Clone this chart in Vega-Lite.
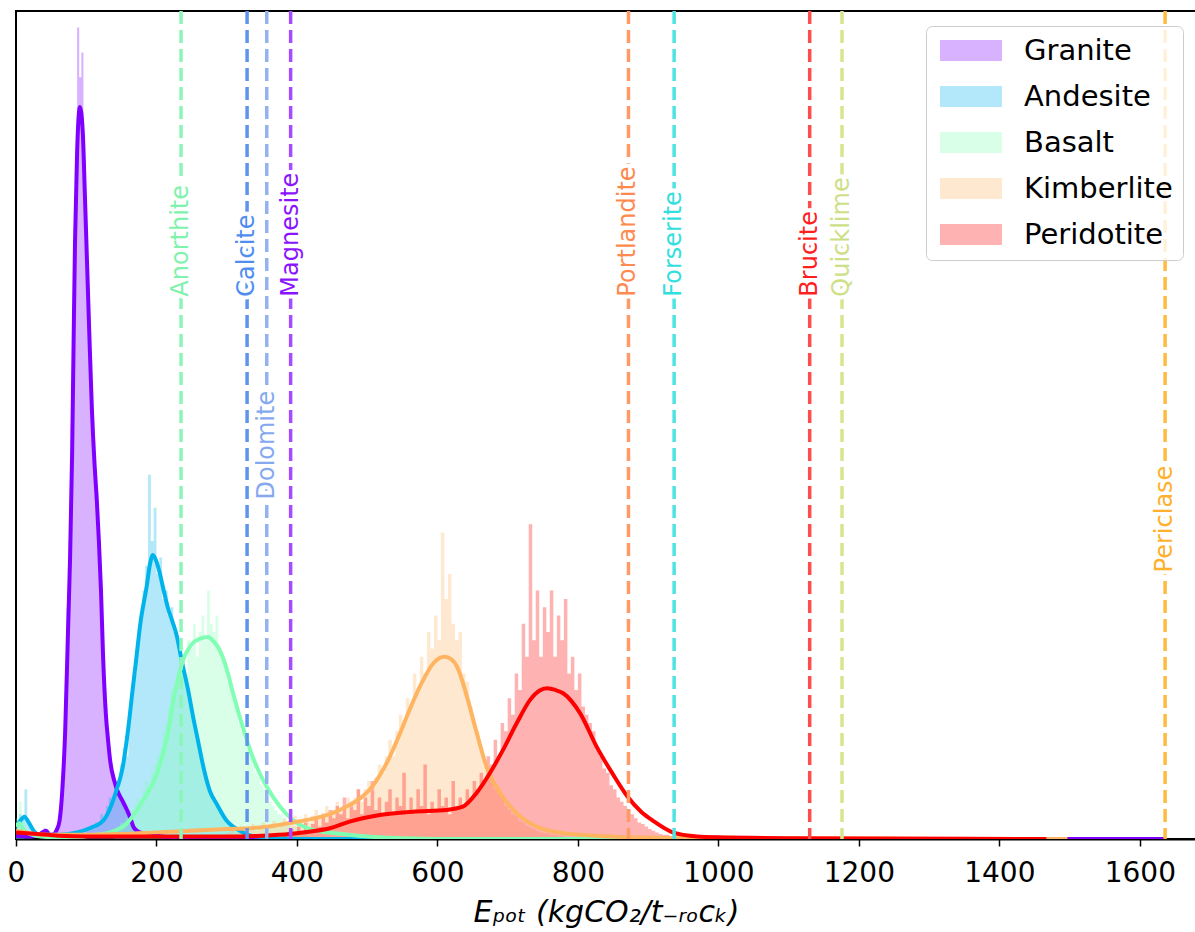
{
"$schema": "https://vega.github.io/schema/vega-lite/v6.json",
"width": 1180, "height": 828,
"autosize": {"type": "none"},
"padding": {"left": 16, "top": 11, "right": 0, "bottom": 93},
"background": "white",
"config": {"view": {"stroke": "black", "strokeWidth": 2}, "font": "DejaVu Sans"},
"datasets": {
"hist": [
{"r":"Granite","x":36,"h":0.01},{"r":"Granite","x":39,"h":0.013},{"r":"Granite","x":42,"h":0.009},{"r":"Granite","x":45,"h":0.004},{"r":"Granite","x":48,"h":0.006},{"r":"Granite","x":51,"h":0.005},{"r":"Granite","x":54,"h":0.008},{"r":"Granite","x":57,"h":0.015},{"r":"Granite","x":60,"h":0.03},{"r":"Granite","x":63,"h":0.05},{"r":"Granite","x":66,"h":0.1},{"r":"Granite","x":69,"h":0.17},{"r":"Granite","x":72,"h":0.28},{"r":"Granite","x":75,"h":0.36},{"r":"Granite","x":78,"h":0.5},{"r":"Granite","x":81,"h":0.66},{"r":"Granite","x":84,"h":0.8},{"r":"Granite","x":87,"h":0.98},{"r":"Granite","x":90,"h":0.92},{"r":"Granite","x":93,"h":0.95},{"r":"Granite","x":96,"h":0.82},{"r":"Granite","x":99,"h":0.72},{"r":"Granite","x":102,"h":0.66},{"r":"Granite","x":105,"h":0.56},{"r":"Granite","x":108,"h":0.5},{"r":"Granite","x":111,"h":0.44},{"r":"Granite","x":114,"h":0.42},{"r":"Granite","x":117,"h":0.35},{"r":"Granite","x":120,"h":0.3},{"r":"Granite","x":123,"h":0.22},{"r":"Granite","x":126,"h":0.16},{"r":"Granite","x":129,"h":0.13},{"r":"Granite","x":132,"h":0.1},{"r":"Granite","x":135,"h":0.085},{"r":"Granite","x":138,"h":0.07},{"r":"Granite","x":141,"h":0.062},{"r":"Granite","x":144,"h":0.055},{"r":"Granite","x":147,"h":0.05},{"r":"Granite","x":150,"h":0.045},{"r":"Granite","x":153,"h":0.038},{"r":"Granite","x":156,"h":0.033},{"r":"Granite","x":159,"h":0.028},{"r":"Granite","x":162,"h":0.02},{"r":"Granite","x":165,"h":0.014},{"r":"Granite","x":168,"h":0.01},{"r":"Granite","x":171,"h":0.008},{"r":"Granite","x":174,"h":0.006},{"r":"Granite","x":177,"h":0.004},{"r":"Granite","x":180,"h":0},
{"r":"Andesite","x":0,"h":0.02},{"r":"Andesite","x":4,"h":0.03},{"r":"Andesite","x":8,"h":0.025},{"r":"Andesite","x":12,"h":0.06},{"r":"Andesite","x":16,"h":0.02},{"r":"Andesite","x":20,"h":0.01},{"r":"Andesite","x":24,"h":0},{"r":"Andesite","x":100,"h":0.01},{"r":"Andesite","x":104,"h":0.015},{"r":"Andesite","x":108,"h":0.012},{"r":"Andesite","x":112,"h":0.02},{"r":"Andesite","x":116,"h":0.018},{"r":"Andesite","x":120,"h":0.03},{"r":"Andesite","x":124,"h":0.025},{"r":"Andesite","x":128,"h":0.04},{"r":"Andesite","x":132,"h":0.05},{"r":"Andesite","x":136,"h":0.045},{"r":"Andesite","x":140,"h":0.07},{"r":"Andesite","x":144,"h":0.06},{"r":"Andesite","x":148,"h":0.09},{"r":"Andesite","x":152,"h":0.11},{"r":"Andesite","x":156,"h":0.1},{"r":"Andesite","x":160,"h":0.15},{"r":"Andesite","x":164,"h":0.17},{"r":"Andesite","x":168,"h":0.2},{"r":"Andesite","x":172,"h":0.24},{"r":"Andesite","x":176,"h":0.27},{"r":"Andesite","x":180,"h":0.3},{"r":"Andesite","x":184,"h":0.33},{"r":"Andesite","x":188,"h":0.44},{"r":"Andesite","x":192,"h":0.36},{"r":"Andesite","x":196,"h":0.4},{"r":"Andesite","x":200,"h":0.32},{"r":"Andesite","x":204,"h":0.34},{"r":"Andesite","x":208,"h":0.29},{"r":"Andesite","x":212,"h":0.3},{"r":"Andesite","x":216,"h":0.27},{"r":"Andesite","x":220,"h":0.28},{"r":"Andesite","x":224,"h":0.25},{"r":"Andesite","x":228,"h":0.24},{"r":"Andesite","x":232,"h":0.22},{"r":"Andesite","x":236,"h":0.2},{"r":"Andesite","x":240,"h":0.19},{"r":"Andesite","x":244,"h":0.17},{"r":"Andesite","x":248,"h":0.15},{"r":"Andesite","x":252,"h":0.14},{"r":"Andesite","x":256,"h":0.12},{"r":"Andesite","x":260,"h":0.11},{"r":"Andesite","x":264,"h":0.09},{"r":"Andesite","x":268,"h":0.08},{"r":"Andesite","x":272,"h":0.065},{"r":"Andesite","x":276,"h":0.055},{"r":"Andesite","x":280,"h":0.05},{"r":"Andesite","x":284,"h":0.04},{"r":"Andesite","x":288,"h":0.035},{"r":"Andesite","x":292,"h":0.03},{"r":"Andesite","x":296,"h":0.025},{"r":"Andesite","x":300,"h":0.02},{"r":"Andesite","x":304,"h":0.018},{"r":"Andesite","x":308,"h":0.014},{"r":"Andesite","x":312,"h":0.012},{"r":"Andesite","x":316,"h":0.01},{"r":"Andesite","x":320,"h":0.008},{"r":"Andesite","x":324,"h":0.006},{"r":"Andesite","x":328,"h":0.004},{"r":"Andesite","x":332,"h":0},
{"r":"Basalt","x":0,"h":0.025},{"r":"Basalt","x":4,"h":0.045},{"r":"Basalt","x":8,"h":0.02},{"r":"Basalt","x":12,"h":0},{"r":"Basalt","x":140,"h":0.01},{"r":"Basalt","x":144,"h":0.015},{"r":"Basalt","x":148,"h":0.02},{"r":"Basalt","x":152,"h":0.02},{"r":"Basalt","x":156,"h":0.025},{"r":"Basalt","x":160,"h":0.03},{"r":"Basalt","x":164,"h":0.035},{"r":"Basalt","x":168,"h":0.04},{"r":"Basalt","x":172,"h":0.05},{"r":"Basalt","x":176,"h":0.045},{"r":"Basalt","x":180,"h":0.06},{"r":"Basalt","x":184,"h":0.07},{"r":"Basalt","x":188,"h":0.065},{"r":"Basalt","x":192,"h":0.08},{"r":"Basalt","x":196,"h":0.09},{"r":"Basalt","x":200,"h":0.1},{"r":"Basalt","x":204,"h":0.11},{"r":"Basalt","x":208,"h":0.13},{"r":"Basalt","x":212,"h":0.14},{"r":"Basalt","x":216,"h":0.16},{"r":"Basalt","x":220,"h":0.18},{"r":"Basalt","x":224,"h":0.17},{"r":"Basalt","x":228,"h":0.2},{"r":"Basalt","x":232,"h":0.21},{"r":"Basalt","x":236,"h":0.22},{"r":"Basalt","x":240,"h":0.2},{"r":"Basalt","x":244,"h":0.24},{"r":"Basalt","x":248,"h":0.23},{"r":"Basalt","x":252,"h":0.26},{"r":"Basalt","x":256,"h":0.22},{"r":"Basalt","x":260,"h":0.25},{"r":"Basalt","x":264,"h":0.27},{"r":"Basalt","x":268,"h":0.24},{"r":"Basalt","x":272,"h":0.3},{"r":"Basalt","x":276,"h":0.26},{"r":"Basalt","x":280,"h":0.25},{"r":"Basalt","x":284,"h":0.27},{"r":"Basalt","x":288,"h":0.23},{"r":"Basalt","x":292,"h":0.22},{"r":"Basalt","x":296,"h":0.21},{"r":"Basalt","x":300,"h":0.19},{"r":"Basalt","x":304,"h":0.19},{"r":"Basalt","x":308,"h":0.17},{"r":"Basalt","x":312,"h":0.16},{"r":"Basalt","x":316,"h":0.14},{"r":"Basalt","x":320,"h":0.13},{"r":"Basalt","x":324,"h":0.12},{"r":"Basalt","x":328,"h":0.11},{"r":"Basalt","x":332,"h":0.1},{"r":"Basalt","x":336,"h":0.09},{"r":"Basalt","x":340,"h":0.08},{"r":"Basalt","x":344,"h":0.075},{"r":"Basalt","x":348,"h":0.065},{"r":"Basalt","x":352,"h":0.06},{"r":"Basalt","x":356,"h":0.05},{"r":"Basalt","x":360,"h":0.045},{"r":"Basalt","x":364,"h":0.04},{"r":"Basalt","x":368,"h":0.035},{"r":"Basalt","x":372,"h":0.03},{"r":"Basalt","x":376,"h":0.03},{"r":"Basalt","x":380,"h":0.025},{"r":"Basalt","x":384,"h":0.02},{"r":"Basalt","x":388,"h":0.02},{"r":"Basalt","x":392,"h":0.015},{"r":"Basalt","x":396,"h":0.015},{"r":"Basalt","x":400,"h":0.012},{"r":"Basalt","x":404,"h":0.01},{"r":"Basalt","x":408,"h":0.008},{"r":"Basalt","x":412,"h":0.006},{"r":"Basalt","x":416,"h":0},
{"r":"Kimberlite","x":300,"h":0.008},{"r":"Kimberlite","x":305,"h":0.012},{"r":"Kimberlite","x":310,"h":0.006},{"r":"Kimberlite","x":315,"h":0.01},{"r":"Kimberlite","x":320,"h":0.015},{"r":"Kimberlite","x":325,"h":0.008},{"r":"Kimberlite","x":330,"h":0.012},{"r":"Kimberlite","x":335,"h":0.018},{"r":"Kimberlite","x":340,"h":0.01},{"r":"Kimberlite","x":345,"h":0.014},{"r":"Kimberlite","x":350,"h":0.02},{"r":"Kimberlite","x":355,"h":0.012},{"r":"Kimberlite","x":360,"h":0.016},{"r":"Kimberlite","x":365,"h":0.022},{"r":"Kimberlite","x":370,"h":0.014},{"r":"Kimberlite","x":375,"h":0.018},{"r":"Kimberlite","x":380,"h":0.025},{"r":"Kimberlite","x":385,"h":0.016},{"r":"Kimberlite","x":390,"h":0.02},{"r":"Kimberlite","x":395,"h":0.028},{"r":"Kimberlite","x":400,"h":0.018},{"r":"Kimberlite","x":405,"h":0.024},{"r":"Kimberlite","x":410,"h":0.03},{"r":"Kimberlite","x":415,"h":0.02},{"r":"Kimberlite","x":420,"h":0.028},{"r":"Kimberlite","x":425,"h":0.035},{"r":"Kimberlite","x":430,"h":0.024},{"r":"Kimberlite","x":435,"h":0.032},{"r":"Kimberlite","x":440,"h":0.04},{"r":"Kimberlite","x":445,"h":0.028},{"r":"Kimberlite","x":450,"h":0.035},{"r":"Kimberlite","x":455,"h":0.045},{"r":"Kimberlite","x":460,"h":0.032},{"r":"Kimberlite","x":465,"h":0.04},{"r":"Kimberlite","x":470,"h":0.05},{"r":"Kimberlite","x":475,"h":0.038},{"r":"Kimberlite","x":480,"h":0.05},{"r":"Kimberlite","x":485,"h":0.06},{"r":"Kimberlite","x":490,"h":0.045},{"r":"Kimberlite","x":495,"h":0.06},{"r":"Kimberlite","x":500,"h":0.07},{"r":"Kimberlite","x":505,"h":0.058},{"r":"Kimberlite","x":510,"h":0.075},{"r":"Kimberlite","x":515,"h":0.09},{"r":"Kimberlite","x":520,"h":0.08},{"r":"Kimberlite","x":525,"h":0.1},{"r":"Kimberlite","x":530,"h":0.12},{"r":"Kimberlite","x":535,"h":0.1},{"r":"Kimberlite","x":540,"h":0.13},{"r":"Kimberlite","x":545,"h":0.15},{"r":"Kimberlite","x":550,"h":0.14},{"r":"Kimberlite","x":555,"h":0.17},{"r":"Kimberlite","x":560,"h":0.16},{"r":"Kimberlite","x":565,"h":0.2},{"r":"Kimberlite","x":570,"h":0.18},{"r":"Kimberlite","x":575,"h":0.22},{"r":"Kimberlite","x":580,"h":0.2},{"r":"Kimberlite","x":585,"h":0.25},{"r":"Kimberlite","x":590,"h":0.23},{"r":"Kimberlite","x":595,"h":0.27},{"r":"Kimberlite","x":600,"h":0.24},{"r":"Kimberlite","x":605,"h":0.37},{"r":"Kimberlite","x":610,"h":0.29},{"r":"Kimberlite","x":615,"h":0.32},{"r":"Kimberlite","x":620,"h":0.26},{"r":"Kimberlite","x":625,"h":0.24},{"r":"Kimberlite","x":630,"h":0.25},{"r":"Kimberlite","x":635,"h":0.2},{"r":"Kimberlite","x":640,"h":0.19},{"r":"Kimberlite","x":645,"h":0.16},{"r":"Kimberlite","x":650,"h":0.14},{"r":"Kimberlite","x":655,"h":0.13},{"r":"Kimberlite","x":660,"h":0.11},{"r":"Kimberlite","x":665,"h":0.09},{"r":"Kimberlite","x":670,"h":0.085},{"r":"Kimberlite","x":675,"h":0.07},{"r":"Kimberlite","x":680,"h":0.06},{"r":"Kimberlite","x":685,"h":0.055},{"r":"Kimberlite","x":690,"h":0.05},{"r":"Kimberlite","x":695,"h":0.04},{"r":"Kimberlite","x":700,"h":0.035},{"r":"Kimberlite","x":705,"h":0.03},{"r":"Kimberlite","x":710,"h":0.028},{"r":"Kimberlite","x":715,"h":0.022},{"r":"Kimberlite","x":720,"h":0.02},{"r":"Kimberlite","x":725,"h":0.016},{"r":"Kimberlite","x":730,"h":0.014},{"r":"Kimberlite","x":735,"h":0.012},{"r":"Kimberlite","x":740,"h":0.01},{"r":"Kimberlite","x":745,"h":0.008},{"r":"Kimberlite","x":750,"h":0.007},{"r":"Kimberlite","x":760,"h":0.005},{"r":"Kimberlite","x":770,"h":0.004},{"r":"Kimberlite","x":780,"h":0},
{"r":"Peridotite","x":380,"h":0.005},{"r":"Peridotite","x":385,"h":0.008},{"r":"Peridotite","x":390,"h":0.012},{"r":"Peridotite","x":395,"h":0.006},{"r":"Peridotite","x":400,"h":0.015},{"r":"Peridotite","x":405,"h":0.01},{"r":"Peridotite","x":410,"h":0.02},{"r":"Peridotite","x":415,"h":0.012},{"r":"Peridotite","x":420,"h":0.018},{"r":"Peridotite","x":425,"h":0.025},{"r":"Peridotite","x":430,"h":0.015},{"r":"Peridotite","x":435,"h":0.03},{"r":"Peridotite","x":440,"h":0.02},{"r":"Peridotite","x":445,"h":0.035},{"r":"Peridotite","x":450,"h":0.025},{"r":"Peridotite","x":455,"h":0.04},{"r":"Peridotite","x":460,"h":0.03},{"r":"Peridotite","x":465,"h":0.05},{"r":"Peridotite","x":470,"h":0.025},{"r":"Peridotite","x":475,"h":0.045},{"r":"Peridotite","x":480,"h":0.035},{"r":"Peridotite","x":485,"h":0.06},{"r":"Peridotite","x":490,"h":0.03},{"r":"Peridotite","x":495,"h":0.05},{"r":"Peridotite","x":500,"h":0.04},{"r":"Peridotite","x":505,"h":0.07},{"r":"Peridotite","x":510,"h":0.035},{"r":"Peridotite","x":515,"h":0.05},{"r":"Peridotite","x":520,"h":0.03},{"r":"Peridotite","x":525,"h":0.045},{"r":"Peridotite","x":530,"h":0.06},{"r":"Peridotite","x":535,"h":0.03},{"r":"Peridotite","x":540,"h":0.05},{"r":"Peridotite","x":545,"h":0.04},{"r":"Peridotite","x":550,"h":0.08},{"r":"Peridotite","x":555,"h":0.03},{"r":"Peridotite","x":560,"h":0.05},{"r":"Peridotite","x":565,"h":0.035},{"r":"Peridotite","x":570,"h":0.06},{"r":"Peridotite","x":575,"h":0.04},{"r":"Peridotite","x":580,"h":0.09},{"r":"Peridotite","x":585,"h":0.03},{"r":"Peridotite","x":590,"h":0.045},{"r":"Peridotite","x":595,"h":0.035},{"r":"Peridotite","x":600,"h":0.06},{"r":"Peridotite","x":605,"h":0.04},{"r":"Peridotite","x":610,"h":0.05},{"r":"Peridotite","x":615,"h":0.03},{"r":"Peridotite","x":620,"h":0.07},{"r":"Peridotite","x":625,"h":0.035},{"r":"Peridotite","x":630,"h":0.05},{"r":"Peridotite","x":635,"h":0.04},{"r":"Peridotite","x":640,"h":0.06},{"r":"Peridotite","x":645,"h":0.05},{"r":"Peridotite","x":650,"h":0.07},{"r":"Peridotite","x":655,"h":0.06},{"r":"Peridotite","x":660,"h":0.08},{"r":"Peridotite","x":665,"h":0.07},{"r":"Peridotite","x":670,"h":0.1},{"r":"Peridotite","x":675,"h":0.09},{"r":"Peridotite","x":680,"h":0.12},{"r":"Peridotite","x":685,"h":0.1},{"r":"Peridotite","x":690,"h":0.14},{"r":"Peridotite","x":695,"h":0.13},{"r":"Peridotite","x":700,"h":0.17},{"r":"Peridotite","x":705,"h":0.15},{"r":"Peridotite","x":710,"h":0.2},{"r":"Peridotite","x":715,"h":0.18},{"r":"Peridotite","x":720,"h":0.26},{"r":"Peridotite","x":725,"h":0.22},{"r":"Peridotite","x":730,"h":0.38},{"r":"Peridotite","x":735,"h":0.24},{"r":"Peridotite","x":740,"h":0.3},{"r":"Peridotite","x":745,"h":0.22},{"r":"Peridotite","x":750,"h":0.28},{"r":"Peridotite","x":755,"h":0.25},{"r":"Peridotite","x":760,"h":0.3},{"r":"Peridotite","x":765,"h":0.22},{"r":"Peridotite","x":770,"h":0.27},{"r":"Peridotite","x":775,"h":0.24},{"r":"Peridotite","x":780,"h":0.29},{"r":"Peridotite","x":785,"h":0.2},{"r":"Peridotite","x":790,"h":0.22},{"r":"Peridotite","x":795,"h":0.18},{"r":"Peridotite","x":800,"h":0.2},{"r":"Peridotite","x":805,"h":0.16},{"r":"Peridotite","x":810,"h":0.15},{"r":"Peridotite","x":815,"h":0.14},{"r":"Peridotite","x":820,"h":0.13},{"r":"Peridotite","x":825,"h":0.11},{"r":"Peridotite","x":830,"h":0.1},{"r":"Peridotite","x":835,"h":0.085},{"r":"Peridotite","x":840,"h":0.08},{"r":"Peridotite","x":845,"h":0.065},{"r":"Peridotite","x":850,"h":0.06},{"r":"Peridotite","x":855,"h":0.05},{"r":"Peridotite","x":860,"h":0.045},{"r":"Peridotite","x":865,"h":0.04},{"r":"Peridotite","x":870,"h":0.035},{"r":"Peridotite","x":875,"h":0.03},{"r":"Peridotite","x":880,"h":0.025},{"r":"Peridotite","x":885,"h":0.02},{"r":"Peridotite","x":890,"h":0.018},{"r":"Peridotite","x":895,"h":0.015},{"r":"Peridotite","x":900,"h":0.012},{"r":"Peridotite","x":905,"h":0.01},{"r":"Peridotite","x":910,"h":0.008},{"r":"Peridotite","x":915,"h":0.006},{"r":"Peridotite","x":920,"h":0.005},{"r":"Peridotite","x":930,"h":0.003},{"r":"Peridotite","x":940,"h":0.002},{"r":"Peridotite","x":950,"h":0.003},{"r":"Peridotite","x":960,"h":0.001},{"r":"Peridotite","x":970,"h":0.002},{"r":"Peridotite","x":980,"h":0}
],
"kde": [
{"r":"Granite","x":0,"d":0.004},{"r":"Granite","x":15,"d":0.003},{"r":"Granite","x":30,"d":0.004},{"r":"Granite","x":38,"d":0.008},{"r":"Granite","x":43,"d":0.01},{"r":"Granite","x":48,"d":0.005},{"r":"Granite","x":54,"d":0.006},{"r":"Granite","x":58,"d":0.011},{"r":"Granite","x":62,"d":0.022},{"r":"Granite","x":66,"d":0.06},{"r":"Granite","x":70,"d":0.13},{"r":"Granite","x":74,"d":0.25},{"r":"Granite","x":77,"d":0.34},{"r":"Granite","x":80,"d":0.47},{"r":"Granite","x":82,"d":0.6},{"r":"Granite","x":84,"d":0.72},{"r":"Granite","x":87,"d":0.83},{"r":"Granite","x":91,"d":0.884},{"r":"Granite","x":95,"d":0.855},{"r":"Granite","x":98,"d":0.78},{"r":"Granite","x":101,"d":0.7},{"r":"Granite","x":104,"d":0.62},{"r":"Granite","x":108,"d":0.52},{"r":"Granite","x":112,"d":0.45},{"r":"Granite","x":115,"d":0.41},{"r":"Granite","x":118,"d":0.36},{"r":"Granite","x":121,"d":0.3},{"r":"Granite","x":124,"d":0.22},{"r":"Granite","x":128,"d":0.15},{"r":"Granite","x":131,"d":0.12},{"r":"Granite","x":134,"d":0.095},{"r":"Granite","x":140,"d":0.07},{"r":"Granite","x":145,"d":0.057},{"r":"Granite","x":151,"d":0.047},{"r":"Granite","x":158,"d":0.035},{"r":"Granite","x":163,"d":0.025},{"r":"Granite","x":167,"d":0.015},{"r":"Granite","x":172,"d":0.01},{"r":"Granite","x":180,"d":0.007},{"r":"Granite","x":190,"d":0.006},{"r":"Granite","x":200,"d":0.004},{"r":"Granite","x":220,"d":0.002},{"r":"Granite","x":260,"d":0.001},{"r":"Granite","x":400,"d":0},{"r":"Granite","x":1636,"d":0},
{"r":"Andesite","x":0,"d":0.015},{"r":"Andesite","x":6,"d":0.022},{"r":"Andesite","x":12,"d":0.027},{"r":"Andesite","x":18,"d":0.02},{"r":"Andesite","x":25,"d":0.01},{"r":"Andesite","x":34,"d":0.005},{"r":"Andesite","x":60,"d":0.005},{"r":"Andesite","x":87,"d":0.008},{"r":"Andesite","x":105,"d":0.013},{"r":"Andesite","x":125,"d":0.023},{"r":"Andesite","x":142,"d":0.056},{"r":"Andesite","x":152,"d":0.087},{"r":"Andesite","x":160,"d":0.135},{"r":"Andesite","x":166,"d":0.18},{"r":"Andesite","x":171,"d":0.216},{"r":"Andesite","x":177,"d":0.26},{"r":"Andesite","x":186,"d":0.305},{"r":"Andesite","x":191,"d":0.333},{"r":"Andesite","x":195,"d":0.343},{"r":"Andesite","x":200,"d":0.335},{"r":"Andesite","x":205,"d":0.32},{"r":"Andesite","x":209,"d":0.305},{"r":"Andesite","x":216,"d":0.28},{"r":"Andesite","x":223,"d":0.262},{"r":"Andesite","x":229,"d":0.245},{"r":"Andesite","x":236,"d":0.215},{"r":"Andesite","x":245,"d":0.18},{"r":"Andesite","x":252,"d":0.148},{"r":"Andesite","x":260,"d":0.115},{"r":"Andesite","x":266,"d":0.09},{"r":"Andesite","x":276,"d":0.058},{"r":"Andesite","x":286,"d":0.042},{"r":"Andesite","x":300,"d":0.022},{"r":"Andesite","x":309,"d":0.015},{"r":"Andesite","x":319,"d":0.01},{"r":"Andesite","x":330,"d":0.005},{"r":"Andesite","x":345,"d":0.003},{"r":"Andesite","x":365,"d":0.001},{"r":"Andesite","x":400,"d":0},{"r":"Andesite","x":700,"d":0},
{"r":"Basalt","x":0,"d":0.015},{"r":"Basalt","x":5,"d":0.019},{"r":"Basalt","x":10,"d":0.012},{"r":"Basalt","x":20,"d":0.006},{"r":"Basalt","x":35,"d":0.003},{"r":"Basalt","x":60,"d":0.002},{"r":"Basalt","x":90,"d":0.002},{"r":"Basalt","x":110,"d":0.005},{"r":"Basalt","x":134,"d":0.008},{"r":"Basalt","x":158,"d":0.019},{"r":"Basalt","x":181,"d":0.047},{"r":"Basalt","x":201,"d":0.08},{"r":"Basalt","x":215,"d":0.123},{"r":"Basalt","x":226,"d":0.176},{"r":"Basalt","x":238,"d":0.216},{"r":"Basalt","x":252,"d":0.237},{"r":"Basalt","x":262,"d":0.242},{"r":"Basalt","x":273,"d":0.244},{"r":"Basalt","x":282,"d":0.238},{"r":"Basalt","x":290,"d":0.228},{"r":"Basalt","x":300,"d":0.205},{"r":"Basalt","x":309,"d":0.176},{"r":"Basalt","x":323,"d":0.135},{"r":"Basalt","x":337,"d":0.099},{"r":"Basalt","x":357,"d":0.063},{"r":"Basalt","x":376,"d":0.039},{"r":"Basalt","x":394,"d":0.023},{"r":"Basalt","x":423,"d":0.011},{"r":"Basalt","x":465,"d":0.006},{"r":"Basalt","x":500,"d":0.003},{"r":"Basalt","x":550,"d":0.001},{"r":"Basalt","x":600,"d":0},{"r":"Basalt","x":1000,"d":0},
{"r":"Kimberlite","x":0,"d":0.01},{"r":"Kimberlite","x":20,"d":0.007},{"r":"Kimberlite","x":50,"d":0.005},{"r":"Kimberlite","x":100,"d":0.005},{"r":"Kimberlite","x":150,"d":0.006},{"r":"Kimberlite","x":200,"d":0.008},{"r":"Kimberlite","x":250,"d":0.01},{"r":"Kimberlite","x":300,"d":0.012},{"r":"Kimberlite","x":333,"d":0.013},{"r":"Kimberlite","x":360,"d":0.015},{"r":"Kimberlite","x":394,"d":0.02},{"r":"Kimberlite","x":420,"d":0.024},{"r":"Kimberlite","x":447,"d":0.03},{"r":"Kimberlite","x":475,"d":0.041},{"r":"Kimberlite","x":490,"d":0.049},{"r":"Kimberlite","x":504,"d":0.06},{"r":"Kimberlite","x":518,"d":0.077},{"r":"Kimberlite","x":532,"d":0.099},{"r":"Kimberlite","x":545,"d":0.124},{"r":"Kimberlite","x":556,"d":0.147},{"r":"Kimberlite","x":575,"d":0.184},{"r":"Kimberlite","x":594,"d":0.212},{"r":"Kimberlite","x":610,"d":0.22},{"r":"Kimberlite","x":620,"d":0.217},{"r":"Kimberlite","x":628,"d":0.208},{"r":"Kimberlite","x":642,"d":0.172},{"r":"Kimberlite","x":656,"d":0.128},{"r":"Kimberlite","x":670,"d":0.087},{"r":"Kimberlite","x":689,"d":0.056},{"r":"Kimberlite","x":713,"d":0.031},{"r":"Kimberlite","x":741,"d":0.015},{"r":"Kimberlite","x":779,"d":0.007},{"r":"Kimberlite","x":827,"d":0.004},{"r":"Kimberlite","x":874,"d":0.002},{"r":"Kimberlite","x":950,"d":0.001},{"r":"Kimberlite","x":1100,"d":0.0005},{"r":"Kimberlite","x":1497,"d":0},
{"r":"Peridotite","x":0,"d":0.008},{"r":"Peridotite","x":30,"d":0.006},{"r":"Peridotite","x":60,"d":0.004},{"r":"Peridotite","x":100,"d":0.003},{"r":"Peridotite","x":200,"d":0.003},{"r":"Peridotite","x":300,"d":0.003},{"r":"Peridotite","x":350,"d":0.004},{"r":"Peridotite","x":390,"d":0.006},{"r":"Peridotite","x":420,"d":0.009},{"r":"Peridotite","x":447,"d":0.013},{"r":"Peridotite","x":475,"d":0.021},{"r":"Peridotite","x":518,"d":0.029},{"r":"Peridotite","x":565,"d":0.033},{"r":"Peridotite","x":613,"d":0.035},{"r":"Peridotite","x":636,"d":0.039},{"r":"Peridotite","x":656,"d":0.056},{"r":"Peridotite","x":675,"d":0.08},{"r":"Peridotite","x":693,"d":0.107},{"r":"Peridotite","x":713,"d":0.14},{"r":"Peridotite","x":732,"d":0.168},{"r":"Peridotite","x":745,"d":0.179},{"r":"Peridotite","x":756,"d":0.182},{"r":"Peridotite","x":768,"d":0.18},{"r":"Peridotite","x":779,"d":0.176},{"r":"Peridotite","x":803,"d":0.152},{"r":"Peridotite","x":827,"d":0.111},{"r":"Peridotite","x":850,"d":0.078},{"r":"Peridotite","x":870,"d":0.052},{"r":"Peridotite","x":890,"d":0.033},{"r":"Peridotite","x":907,"d":0.022},{"r":"Peridotite","x":935,"d":0.008},{"r":"Peridotite","x":970,"d":0.003},{"r":"Peridotite","x":1000,"d":0.002},{"r":"Peridotite","x":1100,"d":0.001},{"r":"Peridotite","x":1467,"d":0}
],
"minerals": [
{"m":"Anorthite","x":235,"ly":0.655},
{"m":"Calcite","x":329,"ly":0.655},
{"m":"Dolomite","x":357,"ly":0.41},
{"m":"Magnesite","x":391,"ly":0.655},
{"m":"Portlandite","x":872,"ly":0.655},
{"m":"Forserite","x":937,"ly":0.655},
{"m":"Brucite","x":1130,"ly":0.655},
{"m":"Quicklime","x":1176,"ly":0.655},
{"m":"Periclase","x":1636,"ly":0.322}
]
},
"layer": [
{"data": {"name": "hist"},
 "mark": {"type": "area", "interpolate": "step-after", "opacity": 0.3, "clip": true},
 "encoding": {
  "x": {"field": "x", "type": "quantitative", "scale": {"domain": [0, 1680], "nice": false, "zero": false},
   "axis": {"values": [0,200,400,600,800,1000,1200,1400,1600], "format": "d", "grid": false, "labelFontSize": 28, "labelColor": "black", "labelFont": "DejaVu Sans", "labelPadding": 13, "labelFlush": false, "labelOverlap": false,
    "tickColor": "black", "tickWidth": 1.5, "tickSize": 7, "domainColor": "black", "domainWidth": 2,
    "title": "Eₚₒₜ (kgCO₂/t₋ᵣₒcₖ)", "titleFontSize": 30, "titleFont": "DejaVu Sans", "titleFontStyle": "italic", "titleFontWeight": "normal", "titleColor": "black", "titlePadding": 10}},
  "y": {"field": "h", "type": "quantitative", "stack": null, "scale": {"domain": [0, 1], "nice": false}, "axis": null},
  "color": {"field": "r", "type": "nominal",
   "scale": {"domain": ["Granite","Andesite","Basalt","Kimberlite","Peridotite"], "range": ["#8000ff","#00b4eb","#80ffb4","#ffb462","#ff0000"]},
   "legend": {"title": null, "orient": "none", "legendX": 910, "legendY": 15, "symbolType": "M-1,-1H4.9V1H-1Z", "symbolSize": 441, "symbolOpacity": 0.3, "symbolStrokeWidth": 0,
    "labelFontSize": 29, "labelFont": "DejaVu Sans", "labelColor": "black", "labelOffset": 59, "labelLimit": 400, "rowPadding": 16, "padding": 10,
    "strokeColor": "#cccccc", "fillColor": "rgba(255,255,255,0.8)", "cornerRadius": 6}}
 }},
{"data": {"name": "kde"},
 "mark": {"type": "line", "interpolate": "monotone", "strokeWidth": 4, "clip": true},
 "encoding": {
  "x": {"field": "x", "type": "quantitative"},
  "y": {"field": "d", "type": "quantitative"},
  "color": {"field": "r", "type": "nominal",
   "scale": {"domain": ["Granite","Andesite","Basalt","Kimberlite","Peridotite"], "range": ["#8000ff","#00b4eb","#80ffb4","#ffb462","#ff0000"]},
   "legend": null}
 }},
{"data": {"name": "minerals"},
 "mark": {"type": "rule", "strokeDash": [13, 6], "strokeWidth": 3.5},
 "encoding": {
  "x": {"field": "x", "type": "quantitative"},
  "color": {"field": "m", "type": "nominal",
   "scale": {"domain": ["Anorthite","Calcite","Dolomite","Magnesite","Portlandite","Forserite","Brucite","Quicklime","Periclase"],
    "range": ["#8cf5b8","#5d95ee","#93b2f0","#a54cff","#ff9a66","#4fe3e3","#ff4d4d","#d5e68f","#ffbb40"]},
   "legend": null}
 }},
{"data": {"name": "minerals"},
 "mark": {"type": "text", "angle": -90, "align": "left", "baseline": "middle", "fontSize": 24, "font": "DejaVu Sans", "fill": "white", "stroke": "white", "strokeWidth": 8},
 "encoding": {
  "x": {"field": "x", "type": "quantitative"},
  "y": {"field": "ly", "type": "quantitative"},
  "text": {"field": "m"}
 }},
{"data": {"name": "minerals"},
 "mark": {"type": "text", "angle": -90, "align": "left", "baseline": "middle", "fontSize": 24, "font": "DejaVu Sans"},
 "encoding": {
  "x": {"field": "x", "type": "quantitative"},
  "y": {"field": "ly", "type": "quantitative"},
  "text": {"field": "m"},
  "color": {"field": "m", "type": "nominal",
   "scale": {"domain": ["Anorthite","Calcite","Dolomite","Magnesite","Portlandite","Forserite","Brucite","Quicklime","Periclase"],
    "range": ["#7ff2ad","#4f8def","#85a9ef","#8a14ff","#ff8a50","#33dede","#ff1f1f","#cde087","#ffb02e"]},
   "legend": null}
 }}
],
"resolve": {"scale": {"color": "independent"}}
}
